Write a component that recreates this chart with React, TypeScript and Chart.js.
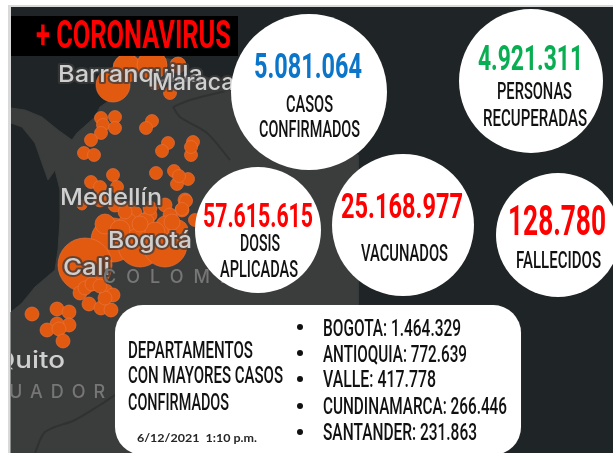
import React, { useEffect, useRef } from "react";
import { Chart, registerables } from "chart.js";

Chart.register(...registerables);

// ---------- values ----------
const titleText = "+ CORONAVIRUS";
const statValues = ["5.081.064", "4.921.311", "57.615.615", "25.168.977", "128.780"];
const statCaptions = [
  ["CASOS", "CONFIRMADOS"],
  ["PERSONAS", "RECUPERADAS"],
  ["DOSIS", "APLICADAS"],
  ["VACUNADOS"],
  ["FALLECIDOS"],
];
const boxHeading = ["DEPARTAMENTOS", "CON MAYORES CASOS", "CONFIRMADOS"];
const departments = ["BOGOTA", "ANTIOQUIA", "VALLE", "CUNDINAMARCA", "SANTANDER"];
const departmentCases = ["1.464.329", "772.639", "417.778", "266.446", "231.863"];
const dateStamp = "6/12/2021  1:10 p.m.";

// map bubbles: x, y on the picture's axes, r = size of the outbreak
const dotX = [115, 101, 103, 115, 101, 91, 84, 94, 152, 146, 168, 162, 193, 191, 191, 156, 174, 177, 188, 179, 113, 91, 100, 117, 82, 170, 155, 127, 152, 178, 113, 100, 115, 130, 165, 185, 182, 170, 150, 135, 113, 140, 165, 85, 186, 182, 195, 80, 106, 113, 89, 101, 111, 85, 105, 32, 57, 69, 69, 57, 47, 59, 63, 128, 145, 165, 105, 120, 155, 178, 92, 100, 125, 140, 172, 150];
const dotY = [117, 118, 125, 128, 133, 140, 153, 155, 121, 128, 143, 151, 142, 155, 147, 173, 171, 184, 179, 176, 175, 182, 187, 187, 205, 93, 85, 68, 65, 65, 85, 200, 205, 208, 205, 200, 210, 215, 215, 213, 240, 245, 245, 265, 201, 209, 220, 293, 291, 295, 304, 308, 310, 288, 298, 314, 309, 312, 325, 324, 330, 329, 341, 222, 222, 225, 224, 230, 232, 230, 284, 286, 212, 224, 222, 208];
const dotR = [6.5, 6.5, 6.5, 6.5, 6.5, 6.5, 6.5, 6.5, 6.5, 6.5, 6.5, 6.5, 6.5, 6.5, 6.5, 6.5, 6.5, 6.5, 6.5, 6.5, 6.5, 6.5, 6.5, 6.5, 5, 6.5, 5, 14, 15, 8, 17, 7, 7, 7, 7, 7, 7, 7, 7, 7, 22, 22, 22, 27, 6.5, 6.5, 6.5, 7, 7, 7, 7, 7, 7, 7, 7, 7, 7, 7, 7, 7, 7, 7, 7, 9, 9, 9, 10, 10, 10, 10, 7, 7, 7, 8, 8, 7];

// land outline and faint borders
const landX = [11, 25, 42, 58, 72, 77, 95, 100, 110, 118, 135, 150, 175, 180, 200, 228, 300, 358, 358, 358, 115, 11, 11, 22, 35, 55, 58, 60, 60, 55, 48, 42, 35, 22, 11];
const landY = [108, 110, 117, 130, 140, 133, 117, 107, 100, 62, 56, 56, 60, 75, 75, 85, 120, 155, 300, 453, 453, 453, 312, 303, 287, 270, 250, 220, 190, 170, 180, 163, 143, 127, 123];
const borderAX = [35, 45, 75, 100, 115];
const borderAY = [453, 432, 420, 405, 395];
const borderBX = [173, 190, 230];
const borderBY = [107, 100, 90];
const borderCX = [173, 180, 207, 230];
const borderCY = [107, 117, 133, 160];

// the five white discs
const discX = [309, 531, 258, 403, 558];
const discY = [92, 81, 230, 225, 235];
const discR = [78, 72, 63, 71, 62];

// ---------- layout of the texts ----------
const CONDENSED = "Roboto, 'Liberation Sans', sans-serif";
const statLayout = [
  { x0: 254, x1: 362, base: 78, size: 35, color: "#0b75c9" },
  { x0: 478, x1: 583, base: 70, size: 35, color: "#0aae52" },
  { x0: 203, x1: 313, base: 227, size: 34, color: "#ff0000" },
  { x0: 341, x1: 463, base: 218, size: 35, color: "#ff0000" },
  { x0: 508, x1: 606, base: 235, size: 42, color: "#ff0000" },
];
const captionLayout = [
  [{ x0: 286, x1: 333, base: 112 }, { x0: 259, x1: 360, base: 137 }],
  [{ x0: 497, x1: 572, base: 99 }, { x0: 483, x1: 587, base: 126 }],
  [{ x0: 240, x1: 280, base: 251 }, { x0: 220, x1: 298, base: 277 }],
  [{ x0: 361, x1: 448, base: 261 }],
  [{ x0: 516, x1: 601, base: 268 }],
];
const headingLayout = [
  { x0: 128, x1: 253, base: 358 },
  { x0: 128, x1: 283, base: 383 },
  { x0: 128, x1: 229, base: 410 },
];
const listLayout = [
  { x1: 461, base: 336, dot: 327 },
  { x1: 467, base: 362, dot: 353 },
  { x1: 436, base: 387, dot: 379 },
  { x1: 507, base: 414, dot: 406 },
  { x1: 477, base: 440, dot: 432 },
];
const placeLabels = [
  { t: "Barranquilla", x0: 58, x1: 203, base: 82, size: 23 },
  { t: "Maracaibo", x0: 152, x1: 268, base: 90, size: 23 },
  { t: "Medellín", x0: 60, x1: 162, base: 205, size: 23 },
  { t: "Bogotá", x0: 108, x1: 192, base: 248, size: 23 },
  { t: "Cali", x0: 63, x1: 110, base: 275, size: 23 },
  { t: "Quito", x0: -6, x1: 65, base: 368, size: 23 },
];
const spacedLabels = [
  { t: "COLOMBIA", x: 103, base: 283, size: 18, gap: "10px" },
  { t: "ECUADOR", x: -31, base: 398, size: 18, gap: "8px" },
];

function fitted(ctx: CanvasRenderingContext2D, t: string, x0: number, x1: number, base: number, font: string, color: string) {
  ctx.save();
  ctx.font = font;
  ctx.fillStyle = color;
  ctx.textAlign = "left";
  ctx.textBaseline = "alphabetic";
  const w = ctx.measureText(t).width;
  ctx.translate(x0, base);
  ctx.scale((x1 - x0) / w, 1);
  ctx.fillText(t, 0, 0);
  ctx.restore();
}

const infographic = {
  id: "infographic",
  beforeDraw(chart: any) {
    const { ctx, width, height } = chart;
    ctx.save();
    ctx.fillStyle = "#ffffff";
    ctx.fillRect(0, 0, width, height);
    ctx.fillStyle = "#d9d9d9";
    ctx.fillRect(8, 5, width - 8, height - 5);
    ctx.fillStyle = "#1f2427";
    ctx.fillRect(11, 7, width - 11, height - 7);
    ctx.restore();
  },
  afterDatasetDraw(chart: any, args: any) {
    if (args.index !== 4) return;
    // place names sit on the map, beneath the white discs
    const { ctx } = chart;
    ctx.save();
    ctx.beginPath();
    ctx.rect(11, 56, 347, 397);
    ctx.clip();
    ctx.filter = "blur(0.5px)";
    ctx.lineJoin = "round";
    for (const l of placeLabels) {
      ctx.font = `500 ${l.size}px Inter, Roboto, sans-serif`;
      const w = ctx.measureText(l.t).width;
      ctx.save();
      ctx.translate(l.x0, l.base);
      ctx.scale((l.x1 - l.x0) / w, 1);
      ctx.lineWidth = 4;
      ctx.strokeStyle = "rgba(60,60,60,0.75)";
      ctx.strokeText(l.t, 0, 0);
      ctx.fillStyle = "#cfcfcf";
      ctx.fillText(l.t, 0, 0);
      ctx.restore();
    }
    for (const l of spacedLabels) {
      ctx.font = `500 ${l.size}px Inter, Roboto, sans-serif`;
      (ctx as any).letterSpacing = l.gap;
      ctx.lineWidth = 3;
      ctx.strokeStyle = "rgba(60,60,60,0.6)";
      ctx.strokeText(l.t, l.x, l.base);
      ctx.fillStyle = "#767676";
      ctx.fillText(l.t, l.x, l.base);
    }
    ctx.restore();
  },
  afterDatasetsDraw(chart: any) {
    const { ctx } = chart;
    // title band
    ctx.fillStyle = "#000000";
    ctx.fillRect(11, 16, 227, 40);
    fitted(ctx, titleText, 36, 231, 48, `700 39px ${CONDENSED}`, "#ff0000");

    // stats
    statValues.forEach((v, i) => {
      const s = statLayout[i];
      fitted(ctx, v, s.x0, s.x1, s.base, `700 ${s.size}px ${CONDENSED}`, s.color);
      statCaptions[i].forEach((c, j) => {
        const p = captionLayout[i][j];
        fitted(ctx, c, p.x0, p.x1, p.base, `500 24px ${CONDENSED}`, "#111111");
      });
    });

    // department box
    ctx.save();
    ctx.fillStyle = "#ffffff";
    ctx.shadowColor = "rgba(120,120,120,0.6)";
    ctx.shadowBlur = 1;
    ctx.beginPath();
    (ctx as any).roundRect(115, 305, 406, 150, 28);
    ctx.fill();
    ctx.restore();
    boxHeading.forEach((t, i) => {
      const h = headingLayout[i];
      fitted(ctx, t, h.x0, h.x1, h.base, `500 24px ${CONDENSED}`, "#111111");
    });
    departments.forEach((d, i) => {
      const l = listLayout[i];
      ctx.fillStyle = "#111111";
      ctx.beginPath();
      ctx.arc(300, l.dot, 3, 0, Math.PI * 2);
      ctx.fill();
      fitted(ctx, `${d}: ${departmentCases[i]}`, 323, l.x1, l.base, `500 24px ${CONDENSED}`, "#111111");
    });
    fitted(ctx, dateStamp, 137, 257, 442, "700 12px Lato, sans-serif", "#262626");
  },
};

export default function App() {
  const ref = useRef<HTMLCanvasElement | null>(null);
  useEffect(() => {
    document.body.style.margin = "0";
    const toXY = (xs: number[], ys: number[]) => xs.map((x, i) => ({ x, y: ys[i] }));
    const border = (xs: number[], ys: number[], order: number) => ({
      type: "line" as const,
      data: toXY(xs, ys),
      borderColor: "#303131",
      borderWidth: 2,
      pointRadius: 0,
      tension: 0.3,
      order,
    });
    const chart = new Chart(ref.current as HTMLCanvasElement, {
      type: "bubble",
      data: {
        datasets: [
          {
            type: "line",
            data: toXY(landX, landY),
            borderColor: "#3b3c3c",
            backgroundColor: "#3b3c3c",
            borderWidth: 1,
            pointRadius: 0,
            fill: "shape",
            order: 7,
          },
          border(borderAX, borderAY, 6),
          border(borderBX, borderBY, 5),
          border(borderCX, borderCY, 4),
          {
            type: "bubble",
            data: dotX.map((x, i) => ({ x, y: dotY[i], r: dotR[i] })),
            backgroundColor: "#e25a10",
            borderColor: "rgba(235,120,65,0.6)",
            borderWidth: 1,
            clip: false,
            order: 3,
          },
          {
            type: "bubble",
            data: discX.map((x, i) => ({ x, y: discY[i], r: discR[i] })),
            backgroundColor: "#ffffff",
            borderColor: "#ffffff",
            borderWidth: 0,
            clip: false,
            order: 1,
          },
        ] as any,
      },
      options: {
        animation: false,
        responsive: false,
        events: [],
        layout: { padding: 0, autoPadding: false },
        scales: {
          x: { type: "linear", min: 0, max: 613, display: false },
          y: { type: "linear", min: 0, max: 453, reverse: true, display: false },
        },
        plugins: { legend: { display: false }, tooltip: { enabled: false }, title: { display: false } },
      },
      plugins: [infographic],
    });
    return () => chart.destroy();
  }, []);
  return <canvas ref={ref} width={613} height={453} style={{ display: "block" }} />;
}
